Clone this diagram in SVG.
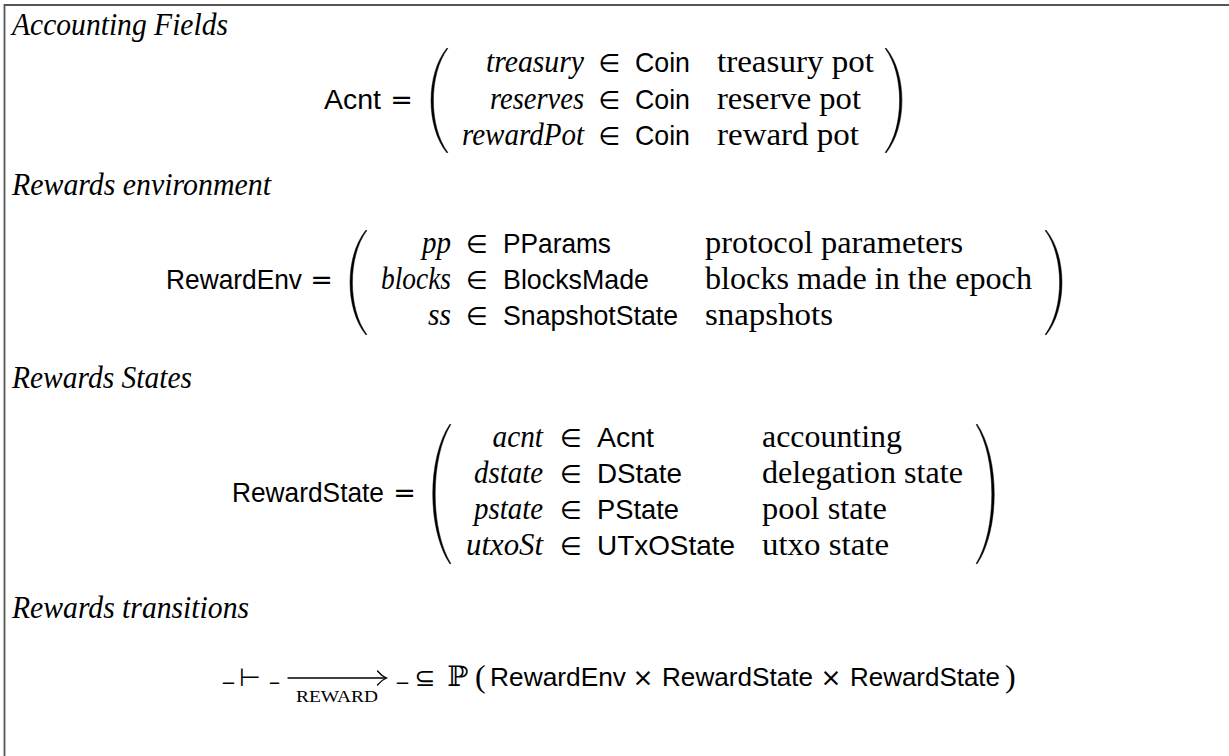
<svg xmlns="http://www.w3.org/2000/svg" width="1229" height="756" viewBox="0 0 1229 756">
  <style>
    .hd { font-family: "Liberation Serif", serif; font-style: italic; font-size: 30.5px; fill: #000; }
    .var { font-family: "Liberation Serif", serif; font-style: italic; font-size: 30.5px; fill: #000; text-anchor: end; }
    .ty { font-family: "Liberation Sans", sans-serif; font-size: 27.5px; fill: #000; }
    .ty2 { font-family: "Liberation Sans", sans-serif; font-size: 26.5px; fill: #000; }
    .lbl { font-family: "Liberation Sans", sans-serif; font-size: 27.5px; fill: #000; text-anchor: end; }
    .ds { font-family: "Liberation Serif", serif; font-size: 30.5px; fill: #000; }
    .op { font-family: "DejaVu Sans", sans-serif; font-size: 25px; fill: #000; text-anchor: middle; }
    .eq { font-family: "DejaVu Sans", sans-serif; font-size: 27px; fill: #000; text-anchor: middle; }
    .sc { font-family: "Liberation Serif", serif; font-size: 17.5px; fill: #000; }
    .par { fill: #000; stroke: #000; stroke-width: 0.5; stroke-linejoin: round; }
    .frame { fill: none; stroke: #555; stroke-width: 1.8; }
    .arr { fill: none; stroke: #000; stroke-width: 1.3; stroke-linecap: round; }
  </style>

  <!-- open frame: top and left rules only -->
  <path class="frame" d="M4.5,756 V5 H1229"/>

  <!-- Accounting fields -->
  <g id="acnt">
    <text class="hd" x="12" y="35" textLength="216" lengthAdjust="spacingAndGlyphs">Accounting Fields</text>
    <text class="lbl" x="381" y="108.5" textLength="57" lengthAdjust="spacingAndGlyphs">Acnt</text>
    <text class="eq" x="401.5" y="108.5">=</text>
    <path class="par" d="M447,48 C425.7,74 425.7,127 447,153 L447.8,152.4 C428.6,127 428.6,74 447.8,48.6 Z"/>
    <text class="var" x="584" y="72" textLength="98" lengthAdjust="spacingAndGlyphs">treasury</text>
    <text class="var" x="584" y="108.5" textLength="94" lengthAdjust="spacingAndGlyphs">reserves</text>
    <text class="var" x="584" y="145" textLength="122" lengthAdjust="spacingAndGlyphs">rewardPot</text>
    <text class="op" x="609.5" y="72">∈</text>
    <text class="op" x="609.5" y="108.5">∈</text>
    <text class="op" x="609.5" y="145">∈</text>
    <text class="ty" x="635" y="72" textLength="55" lengthAdjust="spacingAndGlyphs">Coin</text>
    <text class="ty" x="635" y="108.5" textLength="55" lengthAdjust="spacingAndGlyphs">Coin</text>
    <text class="ty" x="635" y="145" textLength="55" lengthAdjust="spacingAndGlyphs">Coin</text>
    <text class="ds" x="717" y="72" textLength="157" lengthAdjust="spacingAndGlyphs">treasury pot</text>
    <text class="ds" x="717" y="108.5" textLength="144" lengthAdjust="spacingAndGlyphs">reserve pot</text>
    <text class="ds" x="717" y="145" textLength="142" lengthAdjust="spacingAndGlyphs">reward pot</text>
    <path class="par" d="M886,48 C907.3,74 907.3,127 886,153 L885.2,152.4 C904.4,127 904.4,74 885.2,48.6 Z"/>
  </g>

  <!-- Rewards environment -->
  <g id="reward-env">
    <text class="hd" x="12" y="195" textLength="259" lengthAdjust="spacingAndGlyphs">Rewards environment</text>
    <text class="lbl" x="302" y="289" textLength="136" lengthAdjust="spacingAndGlyphs">RewardEnv</text>
    <text class="eq" x="321.5" y="289">=</text>
    <path class="par" d="M366,230 C344.7,256 344.7,309 366,335 L366.8,334.4 C347.6,309 347.6,256 366.8,230.6 Z"/>
    <text class="var" x="451" y="253" textLength="29" lengthAdjust="spacingAndGlyphs">pp</text>
    <text class="var" x="451" y="289" textLength="70" lengthAdjust="spacingAndGlyphs">blocks</text>
    <text class="var" x="451" y="325" textLength="23" lengthAdjust="spacingAndGlyphs">ss</text>
    <text class="op" x="477" y="253">∈</text>
    <text class="op" x="477" y="289">∈</text>
    <text class="op" x="477" y="325">∈</text>
    <text class="ty" x="503" y="253" textLength="108" lengthAdjust="spacingAndGlyphs">PParams</text>
    <text class="ty" x="503" y="289" textLength="146" lengthAdjust="spacingAndGlyphs">BlocksMade</text>
    <text class="ty" x="503" y="325" textLength="175" lengthAdjust="spacingAndGlyphs">SnapshotState</text>
    <text class="ds" x="705" y="253" textLength="258" lengthAdjust="spacingAndGlyphs">protocol parameters</text>
    <text class="ds" x="705" y="289" textLength="327" lengthAdjust="spacingAndGlyphs">blocks made in the epoch</text>
    <text class="ds" x="705" y="325" textLength="128" lengthAdjust="spacingAndGlyphs">snapshots</text>
    <path class="par" d="M1046,230 C1067.3,256 1067.3,309 1046,335 L1045.2,334.4 C1064.4,309 1064.4,256 1045.2,230.6 Z"/>
  </g>

  <!-- Rewards states -->
  <g id="reward-state">
    <text class="hd" x="12" y="388" textLength="180" lengthAdjust="spacingAndGlyphs">Rewards States</text>
    <text class="lbl" x="384" y="502" textLength="152" lengthAdjust="spacingAndGlyphs">RewardState</text>
    <text class="eq" x="404.5" y="502">=</text>
    <path class="par" d="M450,424 C427,458 427,530 450,564 L450.8,563.4 C430,530 430,458 450.8,424.6 Z"/>
    <text class="var" x="543" y="447" textLength="50.5" lengthAdjust="spacingAndGlyphs">acnt</text>
    <text class="var" x="543" y="483" textLength="69" lengthAdjust="spacingAndGlyphs">dstate</text>
    <text class="var" x="543" y="518.5" textLength="69" lengthAdjust="spacingAndGlyphs">pstate</text>
    <text class="var" x="543" y="555" textLength="77" lengthAdjust="spacingAndGlyphs">utxoSt</text>
    <text class="op" x="571" y="447">∈</text>
    <text class="op" x="571" y="483">∈</text>
    <text class="op" x="571" y="518.5">∈</text>
    <text class="op" x="571" y="555">∈</text>
    <text class="ty" x="597" y="447" textLength="57" lengthAdjust="spacingAndGlyphs">Acnt</text>
    <text class="ty" x="597" y="483" textLength="85" lengthAdjust="spacingAndGlyphs">DState</text>
    <text class="ty" x="597" y="518.5" textLength="82" lengthAdjust="spacingAndGlyphs">PState</text>
    <text class="ty" x="597" y="555" textLength="138" lengthAdjust="spacingAndGlyphs">UTxOState</text>
    <text class="ds" x="762" y="447" textLength="140" lengthAdjust="spacingAndGlyphs">accounting</text>
    <text class="ds" x="762" y="483" textLength="201" lengthAdjust="spacingAndGlyphs">delegation state</text>
    <text class="ds" x="762" y="518.5" textLength="125" lengthAdjust="spacingAndGlyphs">pool state</text>
    <text class="ds" x="762" y="555" textLength="127" lengthAdjust="spacingAndGlyphs">utxo state</text>
    <path class="par" d="M977,424 C1000,458 1000,530 977,564 L976.2,563.4 C997,530 997,458 976.2,424.6 Z"/>
  </g>

  <!-- Rewards transitions -->
  <g id="reward-transition">
    <text class="hd" x="12" y="618" textLength="237" lengthAdjust="spacingAndGlyphs">Rewards transitions</text>
    <text class="ds" x="223" y="680" textLength="11" lengthAdjust="spacingAndGlyphs">_</text>
    <text class="op" x="250" y="686">⊢</text>
    <text class="ds" x="270" y="680" textLength="9" lengthAdjust="spacingAndGlyphs">_</text>
    <text class="sc" x="296" y="702" textLength="82" lengthAdjust="spacingAndGlyphs">REWARD</text>
    <text class="ds" x="397" y="680" textLength="11" lengthAdjust="spacingAndGlyphs">_</text>
    <text class="op" x="425" y="686">⊆</text>
    <text x="458" y="686" style="font-family:'DejaVu Serif','DejaVu Sans',serif;font-size:28px;text-anchor:middle;fill:#000">ℙ</text>
    <text class="ds" x="475" y="687" style="font-size:32px">(</text>
    <text class="ty2" x="490" y="686" textLength="136" lengthAdjust="spacingAndGlyphs">RewardEnv</text>
    <text class="op" x="643" y="686">×</text>
    <text class="ty2" x="662" y="686" textLength="151" lengthAdjust="spacingAndGlyphs">RewardState</text>
    <text class="op" x="831" y="686">×</text>
    <text class="ty2" x="850" y="686" textLength="150" lengthAdjust="spacingAndGlyphs">RewardState</text>
    <text class="ds" x="1005" y="687" style="font-size:32px">)</text>
  </g>

  <!-- transition arrow -->
  <g id="connectors">
    <path class="arr" d="M288,678 H386"/>
    <path class="arr" d="M377.5,671 Q381.5,676 386.5,678 Q381.5,680 377.5,685"/>
  </g>
</svg>
